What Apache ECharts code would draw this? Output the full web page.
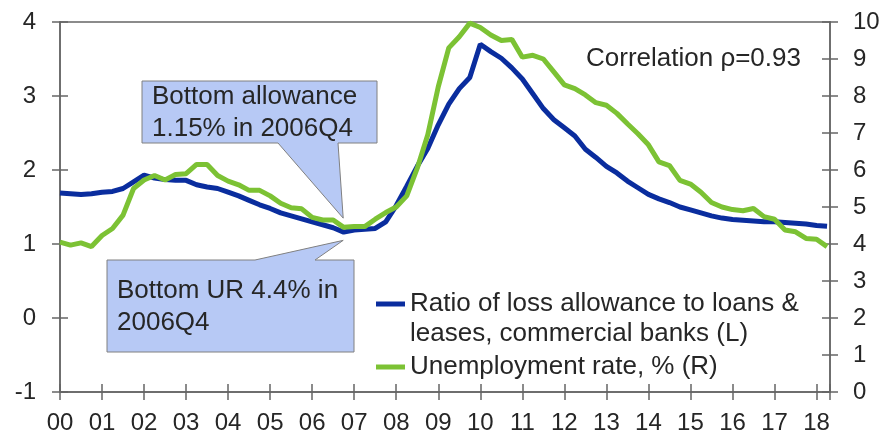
<!DOCTYPE html>
<html>
<head>
<meta charset="utf-8">
<script src="https://cdn.jsdelivr.net/npm/echarts@6/dist/echarts.min.js"></script>
<style>
  html, body { margin: 0; padding: 0; background: #fff; }
  #chart { width: 883px; height: 436px; }
</style>
</head>
<body>
<div id="chart"></div>
<script>
// quarterly observations, 2000Q1 .. 2018Q2
const quarters = [];
for (let y = 2000; y <= 2018; y++) {
    for (let q = 1; q <= 4; q++) quarters.push(y + "Q" + q);
}
quarters.length = 74;

// ratio of loss allowance to loans & leases, % (left axis)
const allowance = [
    1.69, 1.68, 1.67, 1.68,
    1.70, 1.71, 1.75, 1.84,
    1.93, 1.89, 1.87, 1.86,
    1.86, 1.80, 1.77, 1.75,
    1.70, 1.65, 1.59, 1.53,
    1.48, 1.42, 1.38, 1.34,
    1.30, 1.26, 1.22, 1.16,
    1.19, 1.20, 1.21, 1.30,
    1.52, 1.78, 2.05, 2.29,
    2.61, 2.89, 3.10, 3.25,
    3.70, 3.60, 3.51, 3.38,
    3.23, 3.03, 2.83, 2.68,
    2.57, 2.46, 2.28, 2.17,
    2.05, 1.96, 1.85, 1.76,
    1.67, 1.61, 1.56, 1.50,
    1.46, 1.42, 1.38, 1.35,
    1.33, 1.32, 1.31, 1.30,
    1.30, 1.29, 1.28, 1.27,
    1.25, 1.24,
];

// unemployment rate, % (right axis)
const unemployment = [
    4.05, 3.97, 4.03, 3.93,
    4.23, 4.42, 4.78, 5.50,
    5.73, 5.85, 5.73, 5.88,
    5.90, 6.15, 6.15, 5.85,
    5.70, 5.60, 5.45, 5.45,
    5.30, 5.10, 4.98, 4.95,
    4.72, 4.65, 4.65, 4.45,
    4.47, 4.47, 4.67, 4.85,
    5.00, 5.30, 6.05, 6.95,
    8.25, 9.30, 9.60, 9.97,
    9.85, 9.65, 9.50, 9.53,
    9.05, 9.10, 9.00, 8.65,
    8.30, 8.20, 8.03, 7.82,
    7.75, 7.53, 7.25, 6.98,
    6.68, 6.22, 6.12, 5.72,
    5.62, 5.40, 5.12, 5.00,
    4.93, 4.90, 4.96, 4.74,
    4.67, 4.38, 4.33, 4.15,
    4.13, 3.93,
];

const yearLabels = ["00", "01", "02", "03", "04", "05", "06", "07", "08", "09",
    "10", "11", "12", "13", "14", "15", "16", "17", "18"];

const nameL = "Ratio of loss allowance to loans & leases, commercial banks (L)";
const nameR = "Unemployment rate, % (R)";
const bottomQuarter = "2006Q4";

const font = "'Liberation Sans', Arial, sans-serif";
const ink = "#262626";
const axisGray = "#666666";
const boxFill = "#b7c9f5";

const toX = (q) => parseInt(q, 10) + (parseInt(q.slice(5), 10) - 1) / 4;

const xMin = 2000, xMax = 2018.32;

function xAxis(extra) {
    return Object.assign({
        type: "value", min: xMin, max: xMax, interval: 1,
        splitLine: { show: false },
        axisLine: { show: true, onZero: false, lineStyle: { color: axisGray, width: 1.5 } },
        axisTick: { show: true, length: 8, lineStyle: { color: axisGray, width: 1.5 } },
        axisLabel: { show: false },
    }, extra);
}

function yAxis(pos, min, max, extra) {
    return Object.assign({
        type: "value", position: pos, min: min, max: max, interval: 1,
        splitLine: { show: false },
        axisLine: { show: true, onZero: false, lineStyle: { color: axisGray, width: 1.5 } },
        axisTick: { show: true, length: 8, lineStyle: { color: axisGray, width: 1.5 } },
        axisLabel: { show: false },
    }, extra);
}

const labelStyle = { fontSize: 24, color: ink, fontFamily: font };
const insideTick = { show: true, inside: true, length: 8, lineStyle: { color: axisGray, width: 1.5 } };

const chart = echarts.init(document.getElementById("chart"));
chart.setOption({
    animation: false,
    grid: { left: 60, right: 53, top: 22, bottom: 44, outerBoundsMode: "none" },
    xAxis: [
        xAxis({
            position: "bottom",
            axisLabel: Object.assign({
                show: true, margin: 19,
                formatter: (v) => (Number.isInteger(v) ? yearLabels[v - 2000] : ""),
            }, labelStyle),
        }),
        xAxis({ position: "bottom", axisTick: insideTick }),
        xAxis({ position: "top", axisTick: { show: false } }),
    ],
    yAxis: [
        yAxis("left", -1, 4, { axisLabel: Object.assign({ show: true, margin: 24 }, labelStyle) }),
        yAxis("right", 0, 10, { axisLabel: Object.assign({ show: true, margin: 23 }, labelStyle) }),
        yAxis("left", -1, 4, { axisTick: insideTick }),
        yAxis("right", 0, 10, { axisTick: insideTick }),
    ],
    legend: {
        orient: "vertical",
        left: 371, top: 286,
        itemWidth: 29, itemHeight: 5, itemGap: 37,
        icon: "rect",
        data: [nameL, nameR],
        formatter: (n) => (n === nameL ? "Ratio of loss allowance to loans &" : n),
        textStyle: { fontSize: 26, color: ink, fontFamily: font },
        selectedMode: false,
    },
    series: [
        {
            name: nameL, type: "line", xAxisIndex: 0, yAxisIndex: 0,
            showSymbol: false, symbol: "none",
            color: "#0a2d9e",
            lineStyle: { width: 5, color: "#0a2d9e" },
            data: quarters.map((q, i) => [toX(q), allowance[i]]),
        },
        {
            name: nameR, type: "line", xAxisIndex: 0, yAxisIndex: 1,
            showSymbol: false, symbol: "none",
            color: "#7cc234",
            lineStyle: { width: 5, color: "#7cc234" },
            data: quarters.map((q, i) => [toX(q), unemployment[i]]),
        },
    ],
});

// callouts point at the 2006Q4 troughs
const bi = quarters.indexOf(bottomQuarter);
const pL = chart.convertToPixel({ seriesIndex: 0 }, [toX(bottomQuarter), allowance[bi]]);
const pR = chart.convertToPixel({ seriesIndex: 1 }, [toX(bottomQuarter), unemployment[bi]]);
const tipTop = [pL[0] - 0.5, pL[1] - 14];
const tipBot = [pR[0] - 0.5, pR[1] + 13];

chart.setOption({
    graphic: [
        {
            type: "polygon", z: 10,
            shape: { points: [[142, 81], [377, 81], [377, 143], [338, 143], tipTop, [278, 143], [142, 143]] },
            style: { fill: boxFill, stroke: "#808080", lineWidth: 1 },
        },
        {
            type: "text", z: 11, left: 152, top: 81,
            style: { text: "Bottom allowance\n1.15% in 2006Q4", font: "26px " + font, fill: ink, lineHeight: 32 },
        },
        {
            type: "polygon", z: 10,
            shape: { points: [[107, 260], [255, 260], tipBot, [315, 260], [354, 260], [354, 352], [107, 352]] },
            style: { fill: boxFill, stroke: "#808080", lineWidth: 1 },
        },
        {
            type: "text", z: 11, left: 117, top: 275,
            style: { text: "Bottom UR 4.4% in\n2006Q4", font: "26px " + font, fill: ink, lineHeight: 32 },
        },
        {
            type: "text", z: 11, left: 586, top: 46,
            style: { text: "Correlation \u03c1=0.93", font: "26px " + font, fill: ink, lineHeight: 26 },
        },
        {
            type: "text", z: 11, left: 410, top: 321,
            style: { text: "leases, commercial banks (L)", font: "26px " + font, fill: ink, lineHeight: 26 },
        },
    ],
});
</script>
</body>
</html>
